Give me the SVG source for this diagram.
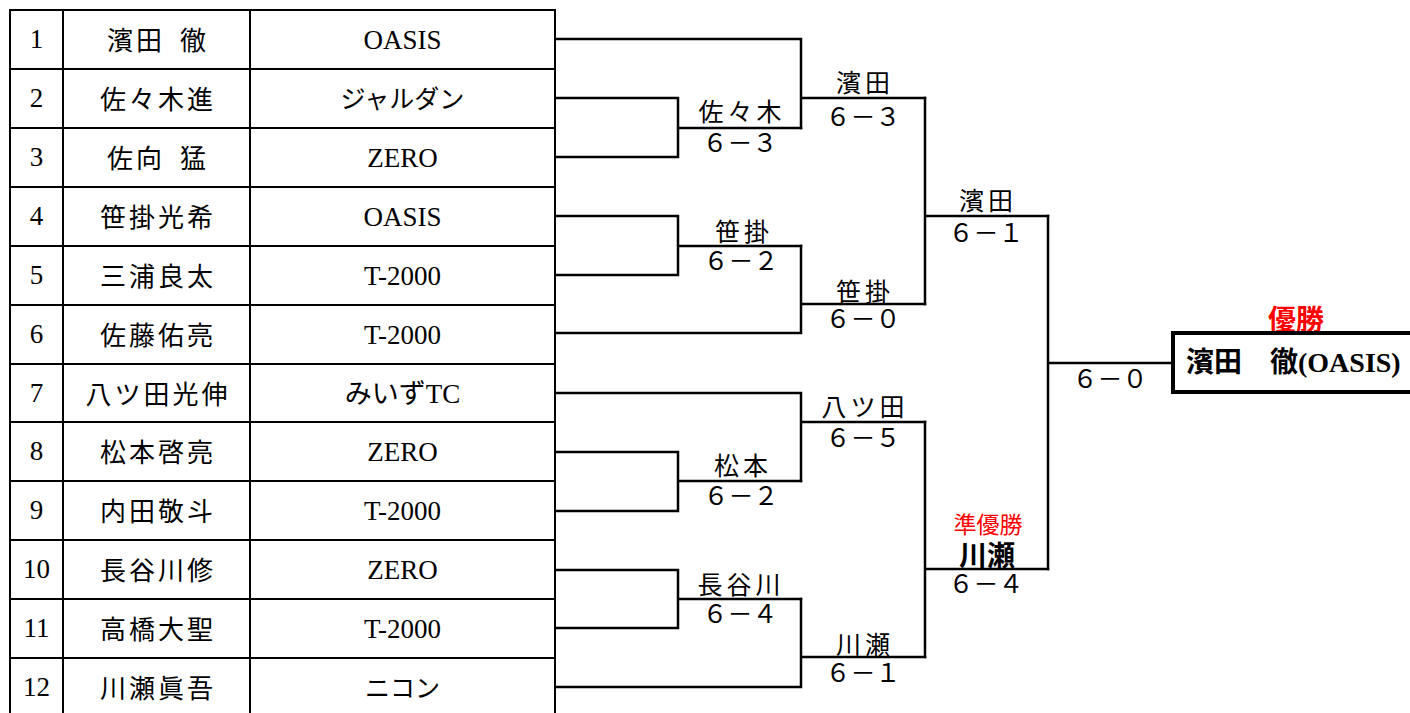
<svg xmlns="http://www.w3.org/2000/svg" width="1410" height="713" viewBox="0 0 1410 713">
<style>
.grid{stroke:#000;stroke-width:2;fill:none}
.br{stroke:#000;stroke-width:2.5;fill:none;stroke-linejoin:miter;stroke-linecap:square}
.num{font-family:"Liberation Serif",serif;font-size:27px;text-anchor:middle;fill:#000}
.name{font-family:"Noto Sans CJK JP",sans-serif;font-size:26px;letter-spacing:3px;word-spacing:6px;text-anchor:middle;fill:#000}
.team{font-family:"Liberation Serif","Noto Sans CJK JP",serif;font-size:27px;text-anchor:middle;fill:#000}
.teamj{font-family:"Noto Sans CJK JP",sans-serif;font-size:25px;text-anchor:middle;fill:#000}
.lbl{font-family:"Noto Sans CJK JP",sans-serif;font-size:25px;letter-spacing:4px;text-anchor:middle;fill:#000}
.score{font-family:"Noto Sans CJK JP",sans-serif;font-size:25px;text-anchor:middle;fill:#000}
.red{fill:#ff0000}
</style>
<rect width="1410" height="713" fill="#fff"/>
<g id="table">
<rect class="grid" x="10" y="10" width="545" height="720"/>
<path class="grid" d="M63,10V713M250,10V713M10,69H555M10,128H555M10,187H555M10,246H555M10,305H555M10,364H555M10,422H555M10,481H555M10,540H555M10,599H555M10,658H555"/>
</g>
<g id="p1"><text class="num" x="36.5" y="48">1</text><text class="name" x="158" y="50">濱田 徹</text><text class="team" x="402.5" y="49">OASIS</text></g>
<g id="p2"><text class="num" x="36.5" y="107">2</text><text class="name" x="158" y="109">佐々木進</text><text class="teamj" x="402.5" y="108">ジャルダン</text></g>
<g id="p3"><text class="num" x="36.5" y="166">3</text><text class="name" x="158" y="168">佐向 猛</text><text class="team" x="402.5" y="167">ZERO</text></g>
<g id="p4"><text class="num" x="36.5" y="225">4</text><text class="name" x="158" y="227">笹掛光希</text><text class="team" x="402.5" y="226">OASIS</text></g>
<g id="p5"><text class="num" x="36.5" y="284">5</text><text class="name" x="158" y="286">三浦良太</text><text class="team" x="402.5" y="285">T-2000</text></g>
<g id="p6"><text class="num" x="36.5" y="343">6</text><text class="name" x="158" y="345">佐藤佑亮</text><text class="team" x="402.5" y="344">T-2000</text></g>
<g id="p7"><text class="num" x="36.5" y="402">7</text><text class="name" x="158" y="404">八ツ田光伸</text><text class="team" x="402.5" y="403">みいずTC</text></g>
<g id="p8"><text class="num" x="36.5" y="460">8</text><text class="name" x="158" y="462">松本啓亮</text><text class="team" x="402.5" y="461">ZERO</text></g>
<g id="p9"><text class="num" x="36.5" y="519">9</text><text class="name" x="158" y="521">内田敬斗</text><text class="team" x="402.5" y="520">T-2000</text></g>
<g id="p10"><text class="num" x="36.5" y="578">10</text><text class="name" x="158" y="580">長谷川修</text><text class="team" x="402.5" y="579">ZERO</text></g>
<g id="p11"><text class="num" x="36.5" y="637">11</text><text class="name" x="158" y="639">高橋大聖</text><text class="team" x="402.5" y="638">T-2000</text></g>
<g id="p12"><text class="num" x="36.5" y="696">12</text><text class="name" x="158" y="698">川瀬眞吾</text><text class="teamj" x="402.5" y="697">ニコン</text></g>
<g id="connectors">
<path class="br" d="M556,98H678V157H556M678,128H801"/>
<path class="br" d="M556,216H678V275H556M678,246H801"/>
<path class="br" d="M556,452H678V511H556M678,481H801"/>
<path class="br" d="M556,570H678V628H556M678,599H801"/>
<path class="br" d="M556,39H801V128M801,98H925"/>
<path class="br" d="M801,246V333H556M801,304H925"/>
<path class="br" d="M556,393H801V481M801,422H925"/>
<path class="br" d="M801,599V687H556M801,657H925"/>
<path class="br" d="M925,98V304M925,216H1048"/>
<path class="br" d="M925,422V657M925,569H1048"/>
<path class="br" d="M1048,216V569M1048,363H1171"/>
</g>
<g id="m1"><text class="lbl" x="742" y="121">佐々木</text><text class="score" x="740" y="152">６－３</text></g>
<g id="m2"><text class="lbl" x="744" y="241">笹掛</text><text class="score" x="741" y="270">６－２</text></g>
<g id="m3"><text class="lbl" x="743" y="475">松本</text><text class="score" x="741" y="505">６－２</text></g>
<g id="m4"><text class="lbl" x="741" y="594">長谷川</text><text class="score" x="740" y="623">６－４</text></g>
<g id="q1"><text class="lbl" x="865" y="92">濱田</text><text class="score" x="863" y="126">６－３</text></g>
<g id="q2"><text class="lbl" x="865" y="301">笹掛</text><text class="score" x="863" y="328">６－０</text></g>
<g id="q3"><text class="lbl" x="865" y="416">八ツ田</text><text class="score" x="863" y="447">６－５</text></g>
<g id="q4"><text class="lbl" x="865" y="654">川瀬</text><text class="score" x="863" y="682">６－１</text></g>
<g id="s1"><text class="lbl" x="988" y="210">濱田</text><text class="score" x="986" y="242">６－１</text></g>
<g id="s2"><text class="score red" x="988" y="533" style="font-size:23px">準優勝</text><text class="score" x="987" y="566" style="font-size:28px;font-weight:bold">川瀬</text><text class="score" x="986" y="593">６－４</text></g>
<g id="final"><text class="score" x="1110" y="388">６－０</text></g>
<g id="champion">
<text class="score red" x="1296" y="330" style="font-size:28px;font-weight:bold">優勝</text>
<rect x="1173" y="333" width="260" height="59" fill="#fff" stroke="#000" stroke-width="4"/>
<text x="1186" y="372" style="font-family:'Liberation Serif','Noto Sans CJK JP',serif;font-size:28px;font-weight:bold;fill:#000">濱田　徹(OASIS)</text>
</g>
</svg>
